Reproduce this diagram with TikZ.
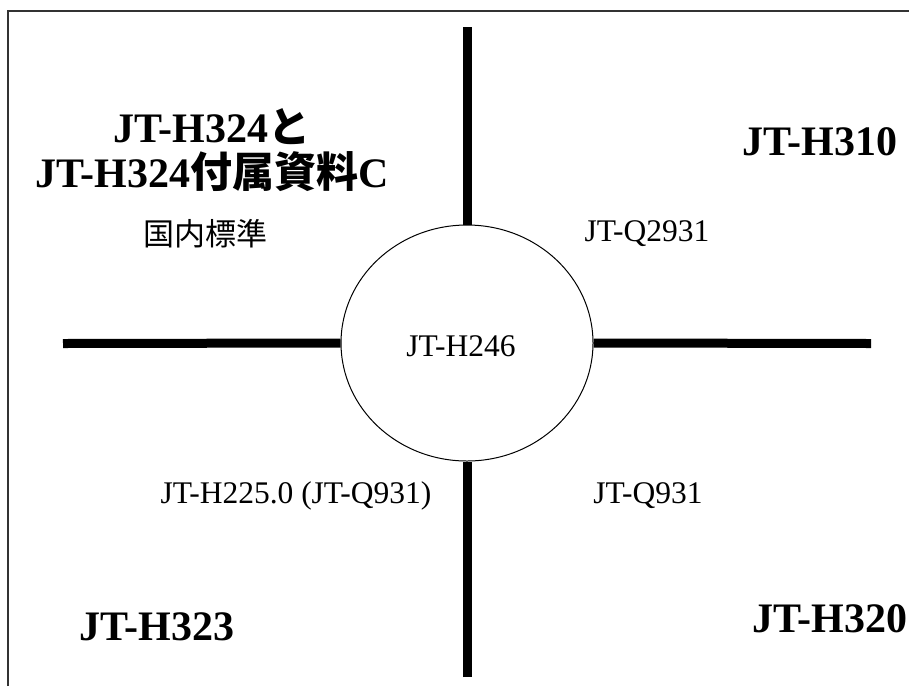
\documentclass[tikz,border=0pt]{standalone}
\usepackage{fontspec}
\setmainfont{Liberation Serif}
\newfontfamily\jp{Noto Sans CJK JP}
\usetikzlibrary{shapes.geometric}
\begin{document}
\begin{tikzpicture}[x=1pt,y=-1pt,
  big/.style={font=\fontsize{42}{46}\selectfont\bfseries, anchor=base, inner sep=0},
  small/.style={font=\fontsize{31.5}{36}\selectfont, anchor=base, inner sep=0},
  axis/.style={line width=9pt},
  frame/.style={line width=1.5pt, black!80}]
\useasboundingbox (0,0) rectangle (909,686);
\draw[frame] (8,686) -- (8,11) -- (909,11);
\node[ellipse, draw, line width=1pt, fill=white, minimum width=252, minimum height=236, inner sep=0] (hub) at (467,343) {};
\coordinate (top) at (467,27);
\coordinate (bot) at (467,677);
\coordinate (lft) at (63,343.5);
\coordinate (rgt) at (871,343.5);
\draw[axis] (top) -- (hub.north);
\draw[axis] (bot) -- (hub.south);
\draw[axis] (lft) -- (hub.west);
\draw[axis] (rgt) -- (hub.east);
\node[small] (h246) at (461,356) {JT-H246};
\node[big] (h324a) at (212,142) {JT-H324{\jp\bfseries と}};
\node[big] (h324b) at (212,187) {JT-H324{\jp\bfseries 付属資料}C};
\node[font=\jp\fontsize{31}{35}\selectfont, inner sep=0] (dom) at (205,234) {国内標準};
\node[big] (h310) at (820,155) {JT-H310};
\node[small] (q2931) at (647,241) {JT-Q2931};
\node[small] (h225) at (296,503) {JT-H225.0 (JT-Q931)};
\node[small] (q931) at (648,503) {JT-Q931};
\node[big] (h323) at (157,640) {JT-H323};
\node[big] (h320) at (830,632) {JT-H320};
\end{tikzpicture}
\end{document}
